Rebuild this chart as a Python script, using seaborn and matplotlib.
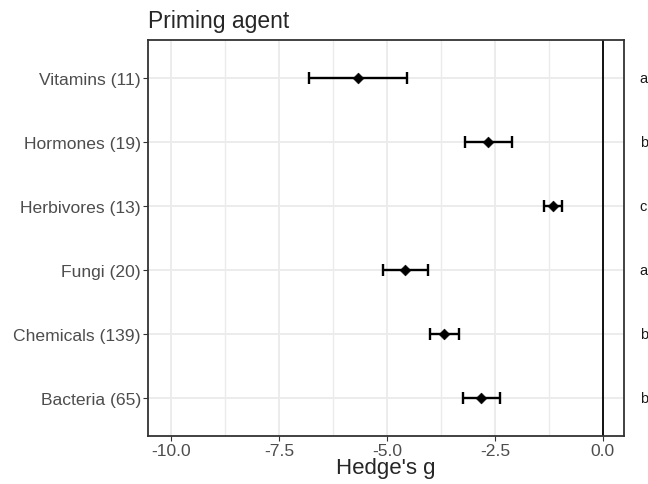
import matplotlib
matplotlib.use("Agg")
import matplotlib.pyplot as plt
import seaborn as sns
import pandas as pd
import numpy as np

categories = ["Vitamins (11)", "Hormones (19)", "Herbivores (13)", "Fungi (20)", "Chemicals (139)", "Bacteria (65)"]
estimate = [-5.67, -2.65, -1.16, -4.58, -3.68, -2.81]
ci_low = [-6.81, -3.19, -1.36, -5.10, -4.01, -3.23]
ci_high = [-4.54, -2.10, -0.95, -4.05, -3.33, -2.38]
letters = ["a", "b", "c", "a", "b", "b"]
xticks = [-10.0, -7.5, -5.0, -2.5, 0.0]
xtick_labels = ["-10.0", "-7.5", "-5.0", "-2.5", "0.0"]

df = pd.DataFrame({"cat": categories, "est": estimate, "lo": ci_low, "hi": ci_high})
df["pos"] = np.arange(len(df))

sns.set_theme(style="white")
plt.rcParams["font.family"] = ["Liberation Sans", "DejaVu Sans"]

fig = plt.figure(figsize=(6.48, 4.85), dpi=100)
ax = fig.add_axes([148/648, (485-437)/485, (624-148)/648, (437-41)/485])

# grid
for v in np.arange(-10, 0.5, 1.25):
    major = abs((v / 2.5) - round(v / 2.5)) < 1e-9
    ax.axvline(v, color="#EBEBEB", lw=1.3 if major else 1.0, zorder=0)
for p in df["pos"]:
    ax.axhline(p, color="#EBEBEB", lw=1.3, zorder=0)

ax.axvline(0, color="black", lw=1.3, zorder=1)

ax.errorbar(df["est"], df["pos"],
            xerr=[df["est"] - df["lo"], df["hi"] - df["est"]],
            fmt="none", ecolor="black", elinewidth=1.7, capsize=4.5, capthick=1.7, zorder=2)
sns.scatterplot(data=df, x="est", y="pos", marker="D", s=30, color="black",
                edgecolor="black", ax=ax, zorder=3, legend=False)

ax.set_xlim(-10.53, 0.49)
ax.set_ylim(len(df) - 0.4, -0.6)
ax.set_yticks(df["pos"])
ax.set_yticklabels(categories)
ax.set_xticks(xticks)
ax.set_xticklabels(xtick_labels)
ax.tick_params(axis="both", labelsize=12.6, labelcolor="#4D4D4D", color="#333333",
               length=3.5, width=0.8, pad=1.5, left=True, bottom=True)
ax.set_xlabel("Hedge's g", fontsize=16, labelpad=-1)
ax.set_ylabel("")
for s in ax.spines.values():
    s.set_color("#333333")
    s.set_linewidth(1.3)

for p, l in zip(df["pos"], letters):
    ax.text(1.033, p, l, transform=ax.get_yaxis_transform(), ha="left", va="center",
            fontsize=10.5, color="#1A1A1A", clip_on=False)

ax.set_title("Priming agent", loc="left", fontsize=16.5, pad=9.5)

fig.savefig("out.png", dpi=100)
